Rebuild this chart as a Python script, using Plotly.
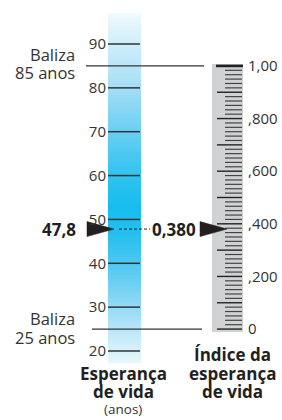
import numpy as np
import plotly.graph_objects as go

# ---------------- data ----------------
life_ticks = [20, 30, 40, 50, 60, 70, 80, 90]
index_ticks = [0, 0.2, 0.4, 0.6, 0.8, 1.0]
index_ticktext = ["0", ",200", ",400", ",600", ",800", "1,00"]
baliza_min = 25          # years
baliza_max = 85          # years
life_expectancy = 47.8   # years
life_index = 0.380       # index value
life_label = "47,8"
index_label = "0,380"

# ---------------- layout geometry (pixels) ----------------
W, H = 282, 420
PX_PER_YEAR = 307 / 70.0
Y_TOP = 20 + 351 / PX_PER_YEAR          # year at top edge of figure
Y_BOT = 20 - (H - 351) / PX_PER_YEAR    # year at bottom edge
span = baliza_max - baliza_min
I_TOP = (Y_TOP - baliza_min) / span
I_BOT = (Y_BOT - baliza_min) / span
PX_PER_INDEX = PX_PER_YEAR * span


def yr(px):
    return Y_TOP - px / PX_PER_YEAR


def pp(px):
    return 1 - px / H


fig = go.Figure()

# ---- blue gradient bar (life expectancy column) ----
bx0, bx1 = 108, 141
y_edges = np.linspace(yr(363), yr(13), 176)
y_mid = (y_edges[:-1] + y_edges[1:]) / 2
zmin, zmax = y_edges[0], y_edges[-1]
stops = [(zmin, "#E6F6FD"), (22, "#CDEDFA"), (30, "#93DAF5"), (40, "#4DC8F1"),
         (47, "#22BFEF"), (53, "#18BDEF"), (60, "#2FC3F0"), (70, "#6ACFF3"),
         (80, "#A3DEF6"), (90, "#CFEEFA"), (zmax, "#F2FAFE")]
cscale = [[(v - zmin) / (zmax - zmin), c] for v, c in stops]
fig.add_trace(go.Heatmap(
    x=[bx0, bx1], y=y_edges, z=[[v] for v in y_mid],
    colorscale=cscale, zmin=zmin, zmax=zmax, showscale=False,
    hoverinfo="skip", zsmooth=False))

# ---- ticks across blue bar ----
tx, ty = [], []
for t in life_ticks:
    tx += [bx0, bx1 - 1, None]
    ty += [t, t, None]
fig.add_trace(go.Scatter(x=tx, y=ty, mode="lines",
                         line=dict(color="#333", width=1.5), hoverinfo="skip"))

# ---- gray ruler (index column) ----
gx0, gx1 = 212, 243
fig.add_shape(type="rect", xref="x", yref="y2", x0=gx0, x1=gx1,
              y0=-3 / PX_PER_INDEX, y1=1 + 2 / PX_PER_INDEX,
              fillcolor="#D1D2D4", line_width=0, layer="below")
minor_x, minor_y, major_x, major_y = [], [], [], []
for i in range(span + 1):
    v = i / span
    if i % 6 == 0:
        major_x += [217, 242, None]
        major_y += [v, v, None]
    else:
        minor_x += [225, 242, None]
        minor_y += [v, v, None]
fig.add_trace(go.Scatter(x=minor_x, y=minor_y, yaxis="y2", mode="lines",
                         line=dict(color="#444", width=1.2), hoverinfo="skip"))
fig.add_trace(go.Scatter(x=major_x, y=major_y, yaxis="y2", mode="lines",
                         line=dict(color="#222", width=1.4), hoverinfo="skip"))
fig.add_trace(go.Scatter(x=[216, 243], y=[1, 1], yaxis="y2", mode="lines",
                         line=dict(color="#222", width=2.6), hoverinfo="skip"))

# ---- baliza lines ----
fig.add_trace(go.Scatter(x=[86, 204], y=[baliza_max, baliza_max], mode="lines",
                         line=dict(color="#333", width=1.3), hoverinfo="skip"))
fig.add_trace(go.Scatter(x=[92, 202], y=[baliza_min, baliza_min], mode="lines",
                         line=dict(color="#333", width=1.3), hoverinfo="skip"))

# ---- dashed connector ----
fig.add_trace(go.Scatter(x=[119, 150], y=[life_expectancy, life_expectancy], mode="lines",
                         line=dict(color="#222", width=1, dash="3px,2px"), hoverinfo="skip"))

# ---- arrows ----
h1 = 7.5 / PX_PER_YEAR
fig.add_trace(go.Scatter(
    x=[87, 87, 114, 87],
    y=[life_expectancy + h1, life_expectancy - h1, life_expectancy, life_expectancy + h1],
    mode="lines", fill="toself", fillcolor="#231F20", line=dict(color="#231F20", width=0.5),
    hoverinfo="skip"))
h2 = 7.5 / PX_PER_INDEX
fig.add_trace(go.Scatter(
    x=[200, 200, 227, 200],
    y=[life_index + h2, life_index - h2, life_index, life_index + h2], yaxis="y2",
    mode="lines", fill="toself", fillcolor="#231F20", line=dict(color="#231F20", width=0.5),
    hoverinfo="skip"))

FONT = "Open Sans"
TXT = "#333"
BOLD = "#231F20"

ann = []
# baliza labels
ann.append(dict(x=77, y=baliza_max, yshift=11, text="Baliza", xanchor="right"))
ann.append(dict(x=77, y=baliza_max, yshift=-7, text=f"{baliza_max} anos", xanchor="right"))
ann.append(dict(x=77, y=baliza_min, yshift=11, text="Baliza", xanchor="right"))
ann.append(dict(x=77, y=baliza_min, yshift=-8, text=f"{baliza_min} anos", xanchor="right"))
for a in ann:
    a.update(xref="x", yref="y", yanchor="middle", showarrow=False,
             font=dict(family=FONT, size=16.5, color=TXT))

ann.append(dict(x=78, y=life_expectancy, xref="x", yref="y", text=f"<b>{life_label}</b>",
                xanchor="right", yanchor="middle", showarrow=False,
                font=dict(family=FONT, size=17, color=BOLD)))
ann.append(dict(x=150, y=life_expectancy, xref="x", yref="y", text=f"<b>{index_label}</b>",
                xanchor="left", yanchor="middle", showarrow=False,
                font=dict(family=FONT, size=17, color=BOLD)))

# bottom titles
for txt, cx, py, sz, bold in [("Esperança", 123, 373, 17, True), ("de vida", 123, 391, 17, True),
                              ("(anos)", 123, 409, 13.5, False),
                              ("Índice da", 232, 354, 17, True), ("esperança", 232, 373, 17, True),
                              ("de vida", 232, 391, 17, True)]:
    ann.append(dict(x=cx, y=pp(py), xref="x", yref="paper",
                    text=f"<b>{txt}</b>" if bold else txt,
                    xanchor="center", yanchor="middle", showarrow=False,
                    font=dict(family=FONT, size=sz, color=BOLD if bold else TXT)))

fig.update_layout(
    width=W, height=H, margin=dict(l=0, r=0, t=0, b=0),
    paper_bgcolor="white", plot_bgcolor="white", showlegend=False,
    xaxis=dict(range=[0, W], visible=False, fixedrange=True, domain=[0, 1]),
    yaxis=dict(range=[Y_BOT, Y_TOP], anchor="free", position=106 / W, side="left",
               tickvals=life_ticks, ticktext=[str(t) for t in life_ticks],
               showgrid=False, zeroline=False, showline=False, ticks="",
               tickfont=dict(family=FONT, size=15, color=TXT), fixedrange=True),
    yaxis2=dict(range=[I_BOT, I_TOP], overlaying="y", anchor="free", position=247 / W,
                side="right", tickvals=index_ticks, ticktext=index_ticktext,
                showgrid=False, zeroline=False, showline=False, ticks="",
                tickfont=dict(family=FONT, size=15, color=TXT), fixedrange=True),
    annotations=ann,
)

fig.write_html("out.html", config={"displayModeBar": False},
               post_script="document.body.style.margin='0';document.body.style.overflow='hidden';")
